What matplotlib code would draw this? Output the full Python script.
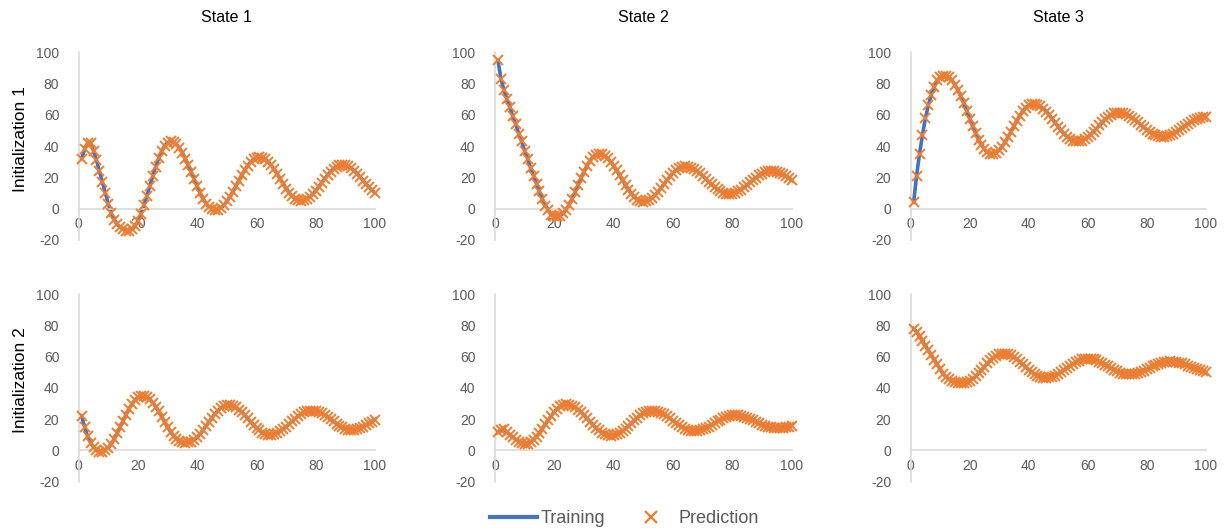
import numpy as np
import matplotlib
matplotlib.use('Agg')
import matplotlib.pyplot as plt
from matplotlib.lines import Line2D

plt.rcParams['font.family'] = ['Liberation Sans', 'DejaVu Sans']
plt.rcParams['axes.unicode_minus'] = False

# time steps 1..100
steps = list(range(1, 101))

col_titles = ['State 1', 'State 2', 'State 3']
row_titles = ['Initialization 1', 'Initialization 2']

# values (training and prediction overlap almost exactly)
s1_i1 = [32, 38, 42, 42, 37, 31, 24, 17, 10, 3, -3, -7, -10, -12, -13, -14, -14,
         -13.3, -11.2, -7.8, -3.3, 2.1, 8.1, 14.5, 20.9, 26.9, 32.3, 36.8, 40.2, 42.3, 43,
         42.5, 41.1, 38.8, 35.7, 32, 27.8, 23.3, 18.7, 14.2, 10, 6.3, 3.2, 0.9, -0.5, -1,
         -0.6, 0.5, 2.2, 4.6, 7.5, 10.7, 14.2, 17.8, 21.3, 24.5, 27.4, 29.8, 31.5, 32.6, 33,
         32.7, 31.6, 29.9, 27.7, 25.1, 22.1, 19, 15.9, 12.9, 10.3, 8.1, 6.4, 5.3, 5,
         5.3, 6.1, 7.5, 9.3, 11.5, 13.9, 16.5, 19.1, 21.5, 23.7, 25.5, 26.9, 27.7, 28,
         27.8, 27.0, 25.8, 24.2, 22.3, 20.2, 18, 15.8, 13.7, 11.8, 10.2]

s2_i1 = [95, 83, 76, 70, 65, 59, 54, 48, 43, 37, 32, 26, 21, 16, 11, 6, 2, -1, -4, -5, -5,
         -4.5, -3, -0.6, 2.5, 6.3, 10.5, 15, 19.5, 23.7, 27.5, 30.6, 33, 34.5, 35,
         34.7, 33.7, 32.1, 30, 27.4, 24.5, 21.3, 18.2, 15, 12.1, 9.5, 7.4, 5.8, 4.8, 4.5,
         4.8, 5.6, 7, 8.7, 10.9, 13.2, 15.8, 18.3, 20.6, 22.8, 24.5, 25.9, 26.7, 27,
         26.8, 26.2, 25.3, 24.1, 22.6, 21, 19.2, 17.3, 15.5, 13.9, 12.4, 11.2, 10.3, 9.7, 9.5,
         9.7, 10.2, 11.1, 12.2, 13.6, 15.1, 16.8, 18.4, 19.9, 21.3, 22.4, 23.3, 23.8, 24,
         23.9, 23.5, 22.8, 21.9, 20.9, 19.7, 18.5]

s3_i1 = [4, 21, 35, 47, 58, 66, 73, 78, 82, 84, 85, 85,
         84, 82, 79.3, 75.8, 71.8, 67.3, 62.5, 57.6, 52.8, 48.3, 44.2, 40.8, 38, 36, 35.1,
         35.1, 35.9, 37.4, 39.7, 42.5, 45.7, 49.2, 52.8, 56.3, 59.5, 62.3, 64.6, 66.1, 66.9,
         66.9, 66.4, 65.4, 63.9, 62.1, 59.9, 57.5, 55, 52.5, 50.1, 47.9, 46.1, 44.6, 43.6, 43.1,
         43.1, 43.5, 44.4, 45.7, 47.3, 49.2, 51.2, 53.3, 55.3, 57.2, 58.8, 60.1, 61, 61.4,
         61.5, 61.1, 60.5, 59.5, 58.3, 56.9, 55.4, 53.8, 52.1, 50.6, 49.2, 48, 47, 46.4, 46,
         46, 46.4, 47, 47.8, 48.9, 50.2, 51.6, 53, 54.3, 55.6, 56.7, 57.5, 58.1, 58.5, 58.5]

s1_i2 = [22, 15, 9, 5, 2, 0, -1, -0.9,
         0, 1.7, 4.3, 7.4, 11, 15, 19, 23, 26.6, 29.7, 32.3, 34, 34.9,
         34.9, 34.2, 32.7, 30.6, 28, 25, 21.7, 18.3, 15, 12, 9.4, 7.3, 5.8, 5.1, 5,
         5.1, 5.7, 6.8, 8.5, 10.6, 13, 15.7, 18.3, 21, 23.4, 25.5, 27.2, 28.3, 28.9,
         28.9, 28.5, 27.6, 26.2, 24.6, 22.7, 20.6, 18.4, 16.3, 14.4, 12.8, 11.4, 10.5, 10.1,
         10, 10.4, 11.2, 12.3, 13.6, 15.2, 16.9, 18.6, 20.3, 21.9, 23.2, 24.3, 25.1, 25.5,
         25.5, 25.2, 24.6, 23.7, 22.6, 21.3, 20, 18.6, 17.2, 15.9, 14.8, 14, 13.4, 13,
         13.1, 13.5, 14.2, 15.1, 16.1, 17.3, 18.5, 19.7]

s2_i2 = [12, 13, 13.5, 12, 10, 8.5, 7, 5.5, 4.5, 4,
         4.3, 5.2, 6.8, 8.8, 11.2, 13.9, 16.8, 19.6, 22.3, 24.7, 26.7, 28.3, 29.2, 29.5,
         29.3, 28.6, 27.6, 26.2, 24.5, 22.6, 20.5, 18.5, 16.4, 14.5, 12.8, 11.4, 10.4, 9.7, 9.5,
         9.7, 10.3, 11.2, 12.5, 14, 15.7, 17.5, 19.3, 21, 22.5, 23.8, 24.7, 25.3, 25.5,
         25.3, 24.9, 24.1, 23.1, 21.8, 20.5, 19, 17.5, 16.2, 14.9, 13.9, 13.1, 12.7, 12.5,
         12.6, 13, 13.6, 14.4, 15.3, 16.4, 17.5, 18.6, 19.7, 20.6, 21.4, 22, 22.4, 22.5,
         22.4, 22.1, 21.6, 21, 20.2, 19.3, 18.4, 17.5, 16.6, 15.8, 15.2, 14.7, 14.4, 14.3,
         14.4, 14.6, 14.9, 15.3, 15.8]

s3_i2 = [78, 76, 73, 70, 67, 64, 61, 58, 55, 52, 49, 47, 45.5, 44.5, 43.7, 43.2, 43,
         43.1, 43.5, 44.4, 45.8, 47.4, 49.3, 51.4, 53.6, 55.7, 57.6, 59.2, 60.6, 61.5, 61.9,
         62, 61.6, 60.8, 59.7, 58.4, 56.8, 55.1, 53.4, 51.7, 50.1, 48.8, 47.7, 46.9, 46.5,
         46.5, 46.7, 47.1, 47.8, 48.8, 50, 51.3, 52.7, 54, 55.3, 56.5, 57.5, 58.2, 58.7, 58.8,
         58.7, 58.3, 57.7, 56.9, 55.9, 54.9, 53.8, 52.6, 51.6, 50.6, 49.8, 49.2, 48.8, 48.7,
         48.8, 49.1, 49.6, 50.3, 51.1, 51.9, 52.9, 53.8, 54.7, 55.4, 56.1, 56.6, 56.9, 57,
         56.9, 56.7, 56.2, 55.7, 55, 54.3, 53.5, 52.7, 52, 51.3, 50.8, 50.3]

panels = [[s1_i1, s2_i1, s3_i1],
          [s1_i2, s2_i2, s3_i2]]

blue = '#4472C4'
orange = '#ED7D31'
grey = '#595959'
axis_grey = '#D9D9D9'

fig = plt.figure(figsize=(12.24, 5.32), dpi=100)

lefts = [0.0643, 0.4044, 0.7440]
widths = [0.2421, 0.2424, 0.2410]
bottoms = [0.549, 0.0945]
height = 0.3526

for r in range(2):
    for c in range(3):
        ax = fig.add_axes([lefts[c], bottoms[r], widths[c], height])
        vals = panels[r][c]
        ax.plot(steps, vals, color=blue, lw=2.6, zorder=2)
        ax.plot(steps, vals, ls='none', marker='x', color=orange,
                ms=6.5, mew=1.4, zorder=3, clip_on=False)
        ax.set_xlim(0, 100)
        ax.set_ylim(-20, 100)
        ax.set_xticks([0, 20, 40, 60, 80, 100])
        ax.set_yticks([-20, 0, 20, 40, 60, 80, 100])
        for s in ['top', 'right']:
            ax.spines[s].set_visible(False)
        ax.spines['bottom'].set_position(('data', 0))
        ax.spines['bottom'].set_color(axis_grey)
        ax.spines['left'].set_color(axis_grey)
        ax.spines['bottom'].set_linewidth(1.2)
        ax.spines['left'].set_linewidth(1.2)
        ax.tick_params(length=0, labelsize=10, labelcolor=grey)
        ax.tick_params(axis='x', pad=6)
        ax.tick_params(axis='y', pad=14)
        ax.patch.set_visible(False)
        if r == 0:
            ax.set_title(col_titles[c], fontsize=11.5, pad=22)

for r in range(2):
    fig.text(0.017, bottoms[r] + height * 0.5 + 0.014, row_titles[r], rotation=90,
             ha='center', va='center', fontsize=12.5)

handles = [Line2D([], [], color=blue, lw=3),
           Line2D([], [], ls='none', marker='x', color=orange, ms=8, mew=1.6)]
leg = fig.legend(handles, ['Training', 'Prediction'], loc='center',
                 bbox_to_anchor=(0.510, 0.025), ncol=2, frameon=False,
                 fontsize=13, handlelength=2.6, handletextpad=0.2, columnspacing=1.25)
for t in leg.get_texts():
    t.set_color(grey)

fig.savefig('out.png', dpi=100)
